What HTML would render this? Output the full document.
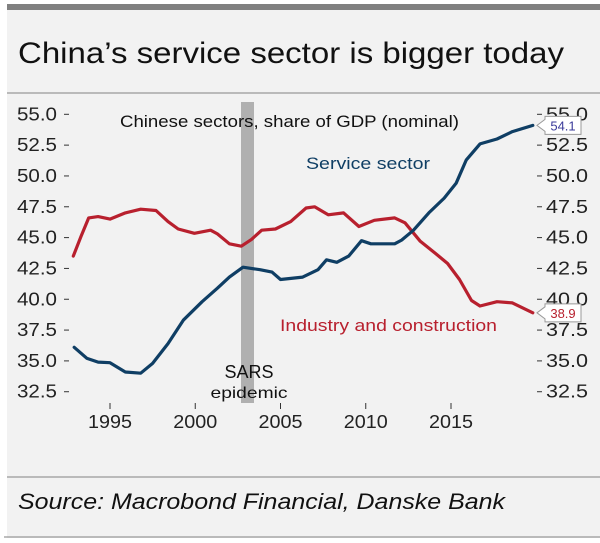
<!DOCTYPE html>
<html><head><meta charset="utf-8"><style>
body{margin:0;background:#fff;width:600px;height:543px;overflow:hidden;font-family:"Liberation Sans",sans-serif}
svg{display:block}
</style></head><body>
<svg width="600" height="543">
<rect x="7" y="4" width="593" height="534" fill="#f2f2f2"/>
<rect x="7" y="4" width="593" height="6" fill="#808080"/>
<text x="18" y="63" font-size="30" textLength="546" lengthAdjust="spacingAndGlyphs" fill="#111">China’s service sector is bigger today</text>
<line x1="7" y1="93" x2="600" y2="93" stroke="#999" stroke-width="1.2"/>
<rect x="241" y="102" width="13" height="301" fill="#b0b0b0"/>
<g id="axes"></g>
<g id="series"></g>
<text x="120" y="127" font-size="17" textLength="339" lengthAdjust="spacingAndGlyphs" fill="#111">Chinese sectors, share of GDP (nominal)</text>
<text x="306" y="169" font-size="17" textLength="124" lengthAdjust="spacingAndGlyphs" fill="#0f3e64">Service sector</text>
<text x="280" y="331" font-size="17" textLength="217" lengthAdjust="spacingAndGlyphs" fill="#b8202e">Industry and construction</text>
<text x="249" y="378" font-size="18" text-anchor="middle" fill="#111">SARS</text>
<text x="249" y="398" font-size="16" text-anchor="middle" textLength="77" lengthAdjust="spacingAndGlyphs" fill="#111">epidemic</text>
<line x1="7" y1="477" x2="600" y2="477" stroke="#999" stroke-width="1.2"/>
<text x="18" y="509" font-size="22" font-style="italic" textLength="487" lengthAdjust="spacingAndGlyphs" fill="#111">Source: Macrobond Financial, Danske Bank</text>
<line x1="4" y1="537" x2="600" y2="537" stroke="#999" stroke-width="1.2"/>
</svg>
<script>
const yTicks=[55.0,52.5,50.0,47.5,45.0,42.5,40.0,37.5,35.0,32.5];
const xTicks=[1995,2000,2005,2010,2015];
const serviceYears=[1992.9,1993.65,1994.3,1995,1995.9,1996.8,1997.5,1998.4,1999.3,2000.4,2001.3,2002,2002.8,2003.8,2004.5,2005,2006.3,2007.2,2007.7,2008.3,2009,2009.75,2010.3,2011.7,2012.1,2012.8,2013.7,2014.6,2015.3,2015.9,2016.7,2017.7,2018.6,2019.8];
const serviceValues=[36.1,35.2,34.9,34.85,34.1,34.0,34.8,36.4,38.3,39.8,40.9,41.8,42.6,42.4,42.2,41.6,41.8,42.4,43.2,43.0,43.5,44.75,44.5,44.5,44.8,45.6,47.0,48.2,49.4,51.3,52.6,53.0,53.6,54.1];
const industryYears=[1992.85,1993.3,1993.75,1994.3,1995,1995.9,1996.8,1997.7,1998.4,1999,1999.95,2000.9,2001.3,2002,2002.7,2003.3,2003.9,2004.7,2005.6,2006.5,2007,2007.8,2008.7,2009.6,2010.5,2011.7,2012.3,2013.2,2014.1,2014.8,2015.5,2016.2,2016.7,2017.7,2018.6,2019.8];
const industryValues=[43.5,45.1,46.6,46.7,46.5,47.0,47.3,47.2,46.3,45.7,45.35,45.6,45.3,44.5,44.3,44.85,45.6,45.7,46.3,47.4,47.5,46.85,47.0,45.9,46.4,46.6,46.2,44.7,43.7,42.9,41.6,39.9,39.45,39.8,39.7,38.9];
const lastLabels=["54.1","38.9"];
const NS="http://www.w3.org/2000/svg";
const x=yr=>110+(yr-1995)*17.05;
const y=v=>114.3+(55-v)*12.33;
function mk(tag,attrs,parent){const e=document.createElementNS(NS,tag);for(const k in attrs)e.setAttribute(k,attrs[k]);parent.appendChild(e);return e;}
const axes=document.getElementById('axes');
yTicks.forEach(v=>{
  let t=mk('text',{x:57,y:y(v)+6,'font-size':18,'text-anchor':'end',textLength:40,lengthAdjust:'spacingAndGlyphs',fill:'#222'},axes);t.textContent=v.toFixed(1);
  
  
  let l=mk('line',{x1:64,x2:69,y1:y(v),y2:y(v),stroke:'#333'},axes);
  
  
  let t2=mk('text',{x:546,y:y(v)+6,'font-size':18,textLength:42,lengthAdjust:'spacingAndGlyphs',fill:'#222'},axes);t2.textContent=v.toFixed(1);
  
  
  let l2=mk('line',{x1:537,x2:542,y1:y(v),y2:y(v),stroke:'#333'},axes);
  
  
});
xTicks.forEach(yr=>{
  let l=mk('line',{x1:x(yr),x2:x(yr),y1:403,y2:409,stroke:'#333'},axes);
  
  
  let t=mk('text',{x:x(yr)-22,y:428,'font-size':18,textLength:44,lengthAdjust:'spacingAndGlyphs',fill:'#222'},axes);t.textContent=yr;
  
  
});
const sg=document.getElementById('series');
function line(xs,vs,color,name){
  const d=xs.map((yr,i)=>(i?'L':'M')+x(yr).toFixed(1)+','+y(vs[i]).toFixed(1)).join('');
  const p=mk('path',{d:d,fill:'none',stroke:color,'stroke-width':3.2,'stroke-linejoin':'round','stroke-linecap':'round'},sg);
  
  
}
line(industryYears,industryValues,'#b8202e','industry-line');
line(serviceYears,serviceValues,'#0f3e64','service-line');
function tag(v,label,color,name){
  const cy=y(v),bx=545;
  const p=mk('path',{d:`M${bx-8},${cy}L${bx},${cy-6}L${bx},${cy-9}L${bx+36},${cy-9}L${bx+36},${cy+9}L${bx},${cy+9}L${bx},${cy+6}Z`,fill:'#fff',stroke:'#999','stroke-width':1},sg);
  
  
  const t=mk('text',{x:bx+18,y:cy+5,'font-size':13,'text-anchor':'middle',fill:color},sg);t.textContent=label;
  
  
}
tag(serviceValues[serviceValues.length-1],lastLabels[0],'#3a3a9a','service-last-value');
tag(industryValues[industryValues.length-1],lastLabels[1],'#b8202e','industry-last-value');
</script>
</body></html>
